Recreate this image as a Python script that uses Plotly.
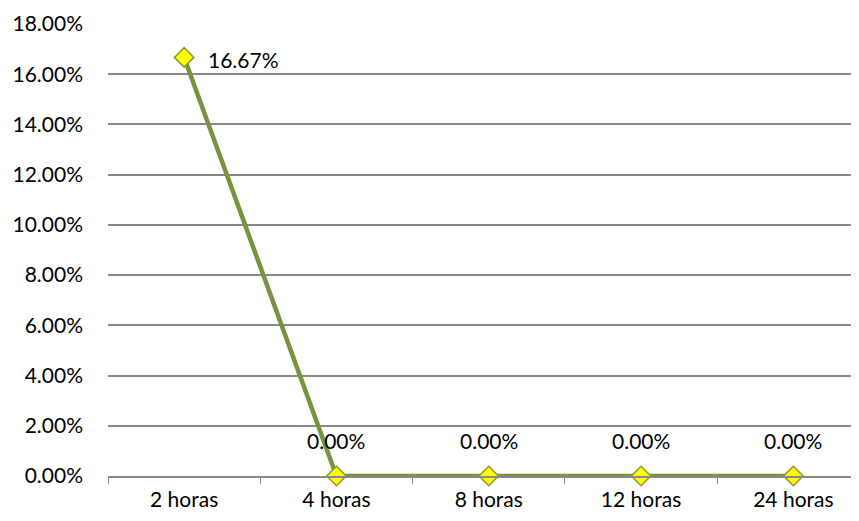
import plotly.graph_objects as go

categories = ["2 horas", "4 horas", "8 horas", "12 horas", "24 horas"]
values = [16.67, 0.0, 0.0, 0.0, 0.0]
y_ticks = [0, 2, 4, 6, 8, 10, 12, 14, 16, 18]
y_tick_labels = [f"{v:.2f}%" for v in y_ticks]

FONT = "Lato, Carlito, Calibri, sans-serif"
FS = 21

fig = go.Figure()
fig.add_trace(go.Scatter(
    x=categories, y=values, mode="lines+markers",
    line=dict(color="#77933C", width=4.5),
    marker=dict(symbol="diamond", size=15, color="#FFFF00",
                line=dict(color="#8A9A2E", width=1.5)),
    cliponaxis=False, showlegend=False,
))

for i, (c, v) in enumerate(zip(categories, values)):
    if i == 0:
        fig.add_annotation(x=c, y=v, text=f"{v:.2f}%", showarrow=False,
                           xanchor="left", yanchor="middle", xshift=22, yshift=-2,
                           font=dict(family=FONT, size=FS, color="#000000"))
    else:
        fig.add_annotation(x=c, y=v, text=f"{v:.2f}%", showarrow=False,
                           xanchor="center", yanchor="middle", yshift=36,
                           font=dict(family=FONT, size=FS, color="#000000"))

fig.update_layout(
    width=851, height=513,
    margin=dict(l=100, r=0, t=16, b=45),
    paper_bgcolor="white", plot_bgcolor="white",
    font=dict(family=FONT, size=FS, color="#000000"),
)
fig.update_xaxes(
    type="category", range=[-0.5, 4.431], automargin=False,
    tickson="boundaries", ticks="outside", ticklen=6, tickcolor="#888888",
    showgrid=False, showline=True, linecolor="#888888", linewidth=2,
    tickfont=dict(family=FONT, size=FS), zeroline=False, ticklabelstandoff=4,
)
fig.update_yaxes(
    range=[0, 18], tickvals=y_ticks, ticktext=y_tick_labels, automargin=False,
    showgrid=True, gridcolor="#888888", gridwidth=1.5,
    showline=False, zeroline=False, ticks="", ticklabelstandoff=24,
    tickfont=dict(family=FONT, size=FS),
)

fig.write_html("out.html")
